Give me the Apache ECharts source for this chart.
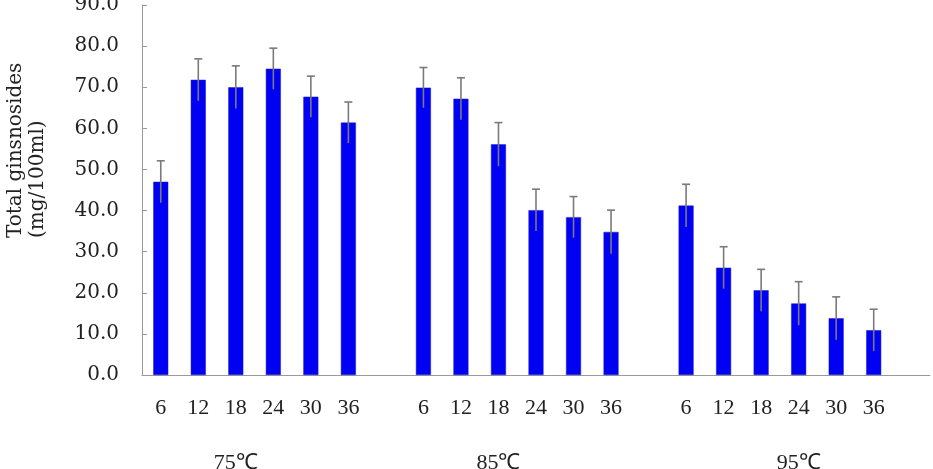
<!DOCTYPE html>
<html>
<head>
<meta charset="utf-8">
<script src="https://cdn.jsdelivr.net/npm/echarts@6/dist/echarts.min.js"></script>
<style>
  html, body { margin: 0; padding: 0; background: #fff; }
  #chart { width: 933px; height: 469px; }
</style>
</head>
<body>
<div id="chart"></div>
<script>
// hours per temperature group, "" marks the empty slot after each group
const hourLabels = ["6", "12", "18", "24", "30", "36", "",
                    "6", "12", "18", "24", "30", "36", "",
                    "6", "12", "18", "24", "30", "36", ""];
const tempLabels = ["", "", "75\u2103", "", "", "", "",
                    "", "", "85\u2103", "", "", "", "",
                    "", "", "", "95\u2103", "", "", ""];

const values75 = [47.0, 71.8, 70.0, 74.5, 67.7, 61.4];
const values85 = [69.9, 67.2, 56.1, 40.1, 38.4, 34.8];
const values95 = [41.2, 26.1, 20.6, 17.4, 13.8, 10.9];

const errors75 = [5.1, 5.1, 5.2, 5.0, 5.0, 5.0];
const errors85 = [4.9, 5.1, 5.3, 5.1, 5.0, 5.3];
const errors95 = [5.2, 5.1, 5.1, 5.3, 5.2, 5.1];

const yTicks = [0, 10, 20, 30, 40, 50, 60, 70, 80, 90];

// flatten groups onto the 21 slots
const barData = [];
const errData = [];
[[values75, errors75], [values85, errors85], [values95, errors95]].forEach(([vals, errs]) => {
  vals.forEach((v, i) => {
    errData.push([barData.length, v - errs[i], v + errs[i]]);
    barData.push(v);
  });
  barData.push("-");
});

const chart = echarts.init(document.getElementById("chart"));

const option = {
  animation: false,
  backgroundColor: "#ffffff",
  grid: { left: 142, right: 3, top: 5, bottom: 94, outerBoundsMode: "none" },
  xAxis: [
    {
      type: "category",
      data: hourLabels,
      axisLine: { lineStyle: { color: "#9a9a9a", width: 1 } },
      axisTick: { inside: true, length: 5, interval: 0, lineStyle: { color: "#9a9a9a" } },
      axisLabel: {
        interval: 0,
        margin: 22,
        color: "#222",
        fontFamily: "Liberation Serif",
        fontSize: 22,
      },
    },
    {
      type: "category",
      data: tempLabels,
      position: "bottom",
      offset: 55,
      axisLine: { show: false },
      axisTick: { show: false },
      axisLabel: {
        interval: 0,
        margin: 22,
        color: "#222",
        fontFamily: "Liberation Serif",
        fontSize: 22,
      },
    },
  ],
  yAxis: {
    type: "value",
    min: yTicks[0],
    max: yTicks[yTicks.length - 1],
    interval: 10,
    name: "Total ginsnosides\n(mg/100ml)",
    nameLocation: "middle",
    nameRotate: 90,
    nameGap: 93,
    nameTextStyle: {
      color: "#222",
      fontFamily: "DejaVu Serif",
      fontSize: 20,
      lineHeight: 22,
      align: "left",
      padding: [0, 0, 0, -48],
    },
    splitLine: { show: false },
    axisLine: { show: true, lineStyle: { color: "#9a9a9a", width: 1 } },
    axisTick: { show: true, inside: true, length: 5, lineStyle: { color: "#9a9a9a" } },
    axisLabel: {
      margin: 23,
      color: "#222",
      fontFamily: "DejaVu Serif",
      fontSize: 20,
      formatter: (v) => v.toFixed(1),
    },
  },
  series: [
    {
      name: "total",
      type: "bar",
      data: barData,
      barWidth: 15,
      itemStyle: { color: "#0000f2", borderColor: "#1a1ac8", borderWidth: 0.5 },
      z: 2,
    },
    {
      name: "error",
      type: "custom",
      data: errData,
      z: 3,
      renderItem: function (params, api) {
        const x = api.value(0);
        const lo = api.coord([x, api.value(1)]);
        const hi = api.coord([x, api.value(2)]);
        const cap = 4;
        const style = { stroke: "#7a7a7a", lineWidth: 1.6 };
        return {
          type: "group",
          children: [
            { type: "line", shape: { x1: hi[0], y1: lo[1], x2: hi[0], y2: hi[1] }, style },
            { type: "line", shape: { x1: hi[0] - cap, y1: hi[1], x2: hi[0] + cap, y2: hi[1] }, style },
          ],
        };
      },
    },
  ],
};

chart.setOption(option);
</script>
</body>
</html>
